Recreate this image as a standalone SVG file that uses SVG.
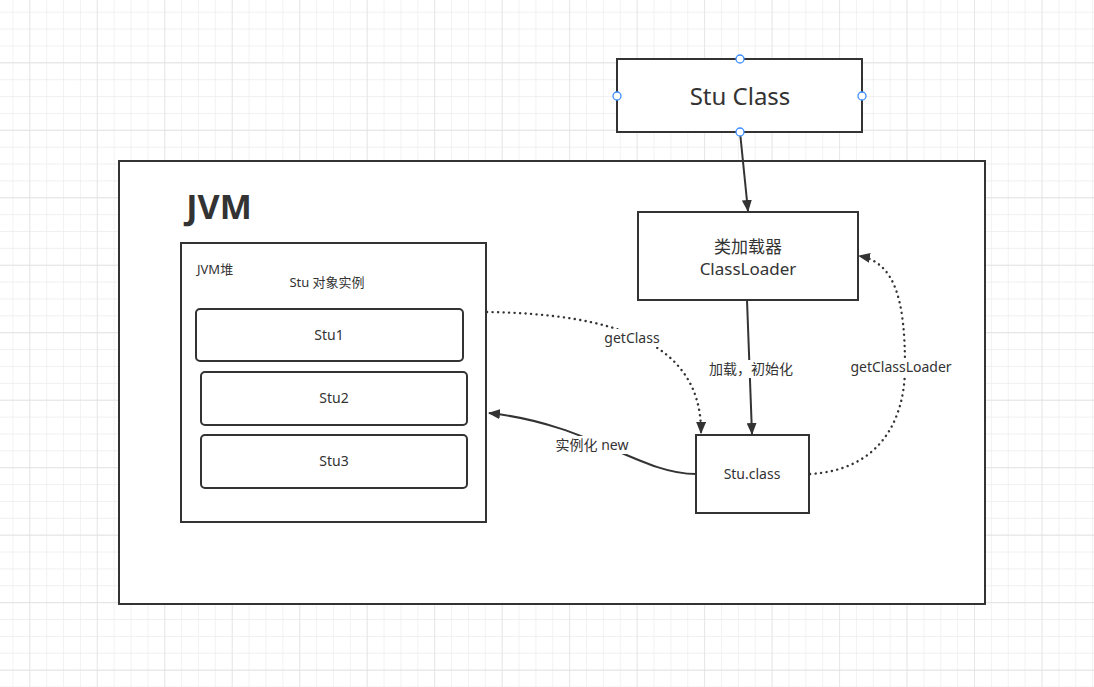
<svg xmlns="http://www.w3.org/2000/svg" width="1094" height="687" viewBox="0 0 1094 687">
<defs>
<pattern id="minor" x="12.43" y="11.7" width="16.87" height="16.87" patternUnits="userSpaceOnUse">
<path d="M0,0 V16.87 M0,0 H16.87" fill="none" stroke="#ececec" stroke-width="1.3"/>
</pattern>
<pattern id="major" x="29.3" y="62.3" width="67.48" height="67.48" patternUnits="userSpaceOnUse">
<path d="M0,0 V67.48 M0,0 H67.48" fill="none" stroke="#e0e0e0" stroke-width="1.3"/>
</pattern>
<marker id="arr" viewBox="0 0 12 10" refX="11" refY="5" markerWidth="12" markerHeight="10" markerUnits="userSpaceOnUse" orient="auto">
<path d="M0,0 L12,5 L0,10 Z" fill="#333"/>
</marker>
<style>
.box{fill:#fff;stroke:#333;stroke-width:2}
.t{font-family:"Noto Sans","Noto Sans CJK SC",sans-serif;fill:#333;text-anchor:middle}
.s{fill:none;stroke:#333;stroke-width:2}
.d{fill:none;stroke:#333;stroke-width:2.4;stroke-dasharray:0.1 5.4;stroke-linecap:round}
.lbl{fill:#fff}
.h{fill:#fff;stroke:#3d8eff;stroke-width:1.3}
</style>
</defs>
<rect width="1094" height="687" fill="#fff"/>
<rect width="1094" height="687" fill="url(#minor)"/>
<rect width="1094" height="687" fill="url(#major)"/>

<g id="jvm">
<rect class="box" x="119" y="161" width="866" height="443"/>
<text class="t" x="219" y="219" font-size="34" font-weight="bold">JVM</text>
</g>
<g id="heap">
<rect class="box" x="181" y="243" width="305" height="279"/>
<text class="t" x="197" y="274" font-size="13" style="text-anchor:start">JVM堆</text>
<text class="t" x="327" y="287" font-size="13">Stu 对象实例</text>
</g>
<g id="stu1">
<rect class="box" x="196" y="309" width="267" height="52" rx="4"/>
<text class="t" x="329" y="340" font-size="14">Stu1</text>
</g>
<g id="stu2">
<rect class="box" x="201" y="372" width="266" height="53" rx="4"/>
<text class="t" x="334" y="403" font-size="14">Stu2</text>
</g>
<g id="stu3">
<rect class="box" x="201" y="435" width="266" height="53" rx="4"/>
<text class="t" x="334" y="466" font-size="14">Stu3</text>
</g>
<g id="stuclass">
<rect class="box" x="617" y="59" width="245" height="73"/>
<text class="t" x="740" y="105" font-size="24">Stu Class</text>
</g>
<g id="classloader">
<rect class="box" x="638" y="212" width="220" height="88"/>
<text class="t" x="748" y="253" font-size="17">类加载器</text>
<text class="t" x="748" y="275" font-size="17">ClassLoader</text>
</g>
<g id="studotclass">
<rect class="box" x="696" y="435" width="113" height="78"/>
<text class="t" x="752" y="479" font-size="14">Stu.class</text>
</g>

<g id="connectors">
<path class="s" d="M740,132 L748,211" marker-end="url(#arr)"/>
<path class="s" d="M747,300 L752,434" marker-end="url(#arr)"/>
<path class="d" d="M487,312 C610,314 702,340 701,433" marker-end="url(#arr)"/>
<path class="s" d="M696,474 C640,474 590,424 489,413" marker-end="url(#arr)"/>
<path class="d" d="M810,474 C880,470 905,420 905,367 C905,300 895,262 859,256" marker-end="url(#arr)"/>
<rect class="lbl" x="601" y="329" width="62" height="18"/>
<text class="t" x="632" y="343" font-size="14">getClass</text>
<rect class="lbl" x="705" y="360" width="92" height="18"/>
<text class="t" x="751" y="374" font-size="14">加载，初始化</text>
<rect class="lbl" x="551" y="436" width="82" height="18"/>
<text class="t" x="592" y="450" font-size="14">实例化 new</text>
<rect class="lbl" x="846" y="358" width="110" height="18"/>
<text class="t" x="901" y="372" font-size="14">getClassLoader</text>
</g>
<g id="handles">
<circle class="h" cx="617" cy="96" r="4"/>
<circle class="h" cx="740" cy="59" r="4"/>
<circle class="h" cx="862" cy="96" r="4"/>
<circle class="h" cx="740" cy="132" r="4"/>
</g>
</svg>
